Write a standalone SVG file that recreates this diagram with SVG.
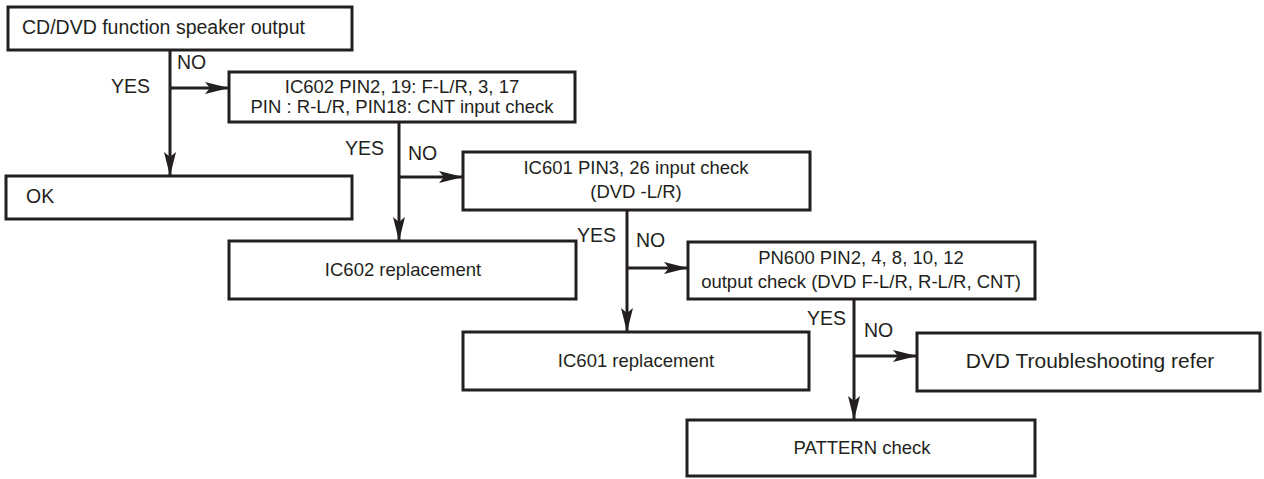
<svg xmlns="http://www.w3.org/2000/svg" width="1264" height="479" viewBox="0 0 1264 479">
<defs>
<style>
.box{fill:#fff;stroke:#231f20;stroke-width:3}
.ln{fill:none;stroke:#231f20;stroke-width:3}
text{font-family:"Liberation Sans",Arial,sans-serif;font-size:18.5px;fill:#231f20}
.c{text-anchor:middle}
.big{font-size:21px}
.lbl{font-size:19.5px}
.t1{font-size:19.5px}
</style>
<marker id="ah" viewBox="0 0 24 12" refX="24" refY="6" markerWidth="24" markerHeight="12" markerUnits="userSpaceOnUse" orient="auto">
<path d="M0,0 L24,6 L0,12 L5,6 Z" fill="#231f20"/>
</marker>
</defs>
<rect width="1264" height="479" fill="#fff"/>
<g id="connectors">
<path class="ln" d="M170,50 V176" marker-end="url(#ah)"/>
<path class="ln" d="M170,88 H229" marker-end="url(#ah)"/>
<text class="lbl" x="177" y="69">NO</text>
<text class="lbl" x="111" y="93">YES</text>
<path class="ln" d="M399,122 V241" marker-end="url(#ah)"/>
<path class="ln" d="M399,177 H463" marker-end="url(#ah)"/>
<text class="lbl" x="345" y="155">YES</text>
<text class="lbl" x="408" y="160">NO</text>
<path class="ln" d="M627,210 V332" marker-end="url(#ah)"/>
<path class="ln" d="M627,268 H688" marker-end="url(#ah)"/>
<text class="lbl" x="577" y="242">YES</text>
<text class="lbl" x="636" y="247">NO</text>
<path class="ln" d="M854,299 V420" marker-end="url(#ah)"/>
<path class="ln" d="M854,356 H917" marker-end="url(#ah)"/>
<text class="lbl" x="807" y="325">YES</text>
<text class="lbl" x="864" y="337">NO</text>
</g>
<g id="start">
<rect class="box" x="8" y="7" width="344" height="43"/>
<text class="t1" x="22" y="34">CD/DVD function speaker output</text>
</g>
<g id="ic602check">
<rect class="box" x="229" y="72" width="346" height="50"/>
<text class="c" x="402" y="93">IC602 PIN2, 19: F-L/R, 3, 17</text>
<text class="c" x="402" y="113">PIN : R-L/R, PIN18: CNT input check</text>
</g>
<g id="ok">
<rect class="box" x="6" y="176" width="346" height="43"/>
<text class="t1" x="26" y="203">OK</text>
</g>
<g id="ic601check">
<rect class="box" x="463" y="152" width="347" height="58"/>
<text class="c" x="636" y="174">IC601 PIN3, 26 input check</text>
<text class="c" x="636" y="198">(DVD -L/R)</text>
</g>
<g id="ic602repl">
<rect class="box" x="229" y="241" width="347" height="58"/>
<text class="c" x="403" y="276">IC602 replacement</text>
</g>
<g id="pn600check">
<rect class="box" x="688" y="242" width="347" height="57"/>
<text class="c" x="861" y="264">PN600 PIN2, 4, 8, 10, 12</text>
<text class="c" x="861" y="288">output check (DVD F-L/R, R-L/R, CNT)</text>
</g>
<g id="ic601repl">
<rect class="box" x="463" y="332" width="346" height="58"/>
<text class="c" x="636" y="367">IC601 replacement</text>
</g>
<g id="dvdts">
<rect class="box" x="917" y="333" width="343" height="58"/>
<text class="c big" x="1090" y="368">DVD Troubleshooting refer</text>
</g>
<g id="pattern">
<rect class="box" x="687" y="420" width="348" height="56"/>
<text class="c" x="862" y="454">PATTERN check</text>
</g>
</svg>
